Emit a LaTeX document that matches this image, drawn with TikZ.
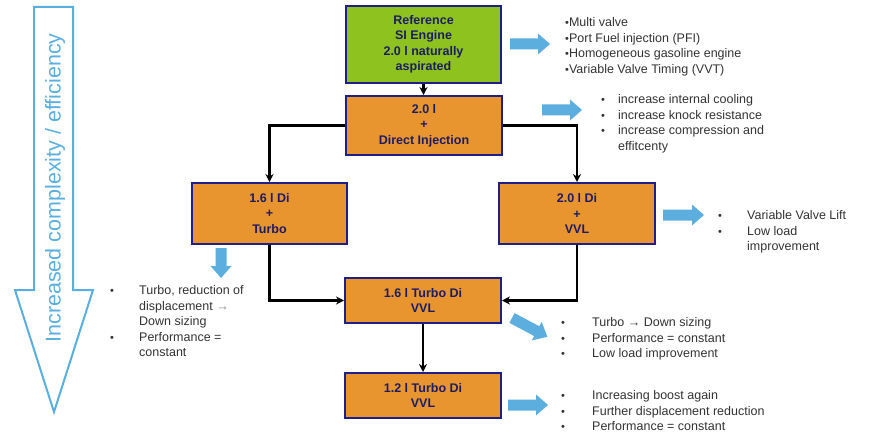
\documentclass[tikz,border=0pt]{standalone}
\usepackage{fontspec}
\setmainfont{Liberation Sans}
\usetikzlibrary{arrows.meta}

\definecolor{boxgreen}{HTML}{8DC21F}
\definecolor{boxorange}{HTML}{E8952F}
\definecolor{boxline}{HTML}{1F1F8A}
\definecolor{boxtext}{HTML}{1C1C66}
\definecolor{arrowblue}{HTML}{5BAEDD}
\definecolor{outlineblue}{HTML}{5AAEE0}
\definecolor{bodytext}{HTML}{333333}

% filled blue arrow: tail point, direction angle, length
\newcommand{\bluearrow}[3]{%
  \fill[arrowblue, shift={#1}, rotate=#2]
    (0,-5.5) -- ({#3-12},-5.5) -- ({#3-12},-10.5) -- (#3,0)
    -- ({#3-12},10.5) -- ({#3-12},5.5) -- (0,5.5) -- cycle;}

\tikzset{
  stage/.style={draw=boxline, line width=2pt, fill=boxorange,
    minimum width=155pt, inner sep=0pt, align=center,
    text=boxtext, font=\bfseries\fontsize{12.5}{15.5}\selectfont},
  conn/.style={draw=black, line width=2.2pt,
    -{Stealth[length=8pt,width=8pt]}},
  notes/.style={anchor=north west, inner sep=0pt, text=bodytext,
    font=\fontsize{12.5}{15.5}\selectfont},
}

% small bullet set in a box of the given width
\newcommand{\smalldot}{{\fontsize{11}{11}\selectfont •}}
\newcommand{\bl}[1]{\makebox[#1][l]{\smalldot}}

\begin{document}
\begin{tikzpicture}[x=1pt, y=-1pt]
\useasboundingbox (0,0) rectangle (869,433);

% big outlined arrow on the left
\draw[outlineblue, line width=2pt, line join=miter]
  (34,7) -- (73,7) -- (73,290) -- (93,290) -- (54,412) -- (15,290) -- (34,290) -- cycle;
\node[rotate=90, text=outlineblue, font=\fontsize{21.5}{24}\selectfont, inner sep=0pt]
  (trend) at (55,188) {Increased complexity / efficiency};

% engine stages
\node[stage, fill=boxgreen, minimum height=77pt] (ref) at (423.5,44.5)
  {Reference\\SI Engine\\2.0 l naturally\\aspirated};
\node[stage, minimum width=156pt, minimum height=59pt] (di) at (424,125.5)
  {2.0 l\\+\\Direct Injection};
\node[stage, minimum height=61pt] (turbo) at (269.5,213.5)
  {1.6 l Di\\+\\Turbo};
\node[stage, minimum width=156pt, minimum height=61pt] (vvl) at (577,213.5)
  {2.0 l Di\\+\\VVL};
\node[stage, minimum width=156pt, minimum height=45pt] (tdv) at (423,300.5)
  {1.6 l Turbo Di\\VVL};
\node[stage, minimum width=156pt, minimum height=45pt] (tdv2) at (423,395.5)
  {1.2 l Turbo Di\\VVL};

% connectors
\draw[conn] (ref.south) -- (ref.south |- di.north);
\draw[conn] (di.west) -| (turbo.north);
\draw[conn] (di.east) -| (vvl.north);
\draw[conn] (turbo.south) |- (tdv.west);
\draw[conn] (vvl.south) |- (tdv.east);
\draw[conn] (tdv.south) -- (tdv.south |- tdv2.north);

% blue pointers to the notes
\bluearrow{(510,44)}{0}{40}
\bluearrow{(542,110)}{0}{40}
\bluearrow{(663,215)}{0}{41}
\bluearrow{(221,248)}{-90}{30}
\bluearrow{(512,318)}{-28}{40}
\bluearrow{(508,405)}{0}{40}

% notes
\node[notes] (n1) at (565,15.6) {\begin{tabular}{@{}l@{}}
  \smalldot Multi valve\\
  \smalldot Port Fuel injection (PFI)\\
  \smalldot Homogeneous gasoline engine\\
  \smalldot Variable Valve Timing (VVT)
\end{tabular}};
\node[notes] (n2) at (601,92.6) {\begin{tabular}{@{}l@{}l@{}}
  \bl{17pt} & increase internal cooling\\
  \bl{17pt} & increase knock resistance\\
  \bl{17pt} & increase compression and\\
   & effitcenty
\end{tabular}};
\node[notes] (n3) at (718,208.6) {\begin{tabular}{@{}l@{}l@{}}
  \bl{29pt} & Variable Valve Lift\\
  \bl{29pt} & Low load\\
   & improvement
\end{tabular}};
\node[notes] (n4) at (110,283.6) {\begin{tabular}{@{}l@{}l@{}}
  \bl{29pt} & Turbo, reduction of\\
   & displacement {\color{gray}→}\\
   & Down sizing\\
  \bl{29pt} & Performance =\\
   & constant
\end{tabular}};
\node[notes] (n5) at (561,315.6) {\begin{tabular}{@{}l@{}l@{}}
  \bl{31pt} & Turbo → Down sizing\\
  \bl{31pt} & Performance = constant\\
  \bl{31pt} & Low load improvement
\end{tabular}};
\node[notes] (n6) at (561,388.6) {\begin{tabular}{@{}l@{}l@{}}
  \bl{31pt} & Increasing boost again\\
  \bl{31pt} & Further displacement reduction\\
  \bl{31pt} & Performance = constant
\end{tabular}};
\end{tikzpicture}
\end{document}
